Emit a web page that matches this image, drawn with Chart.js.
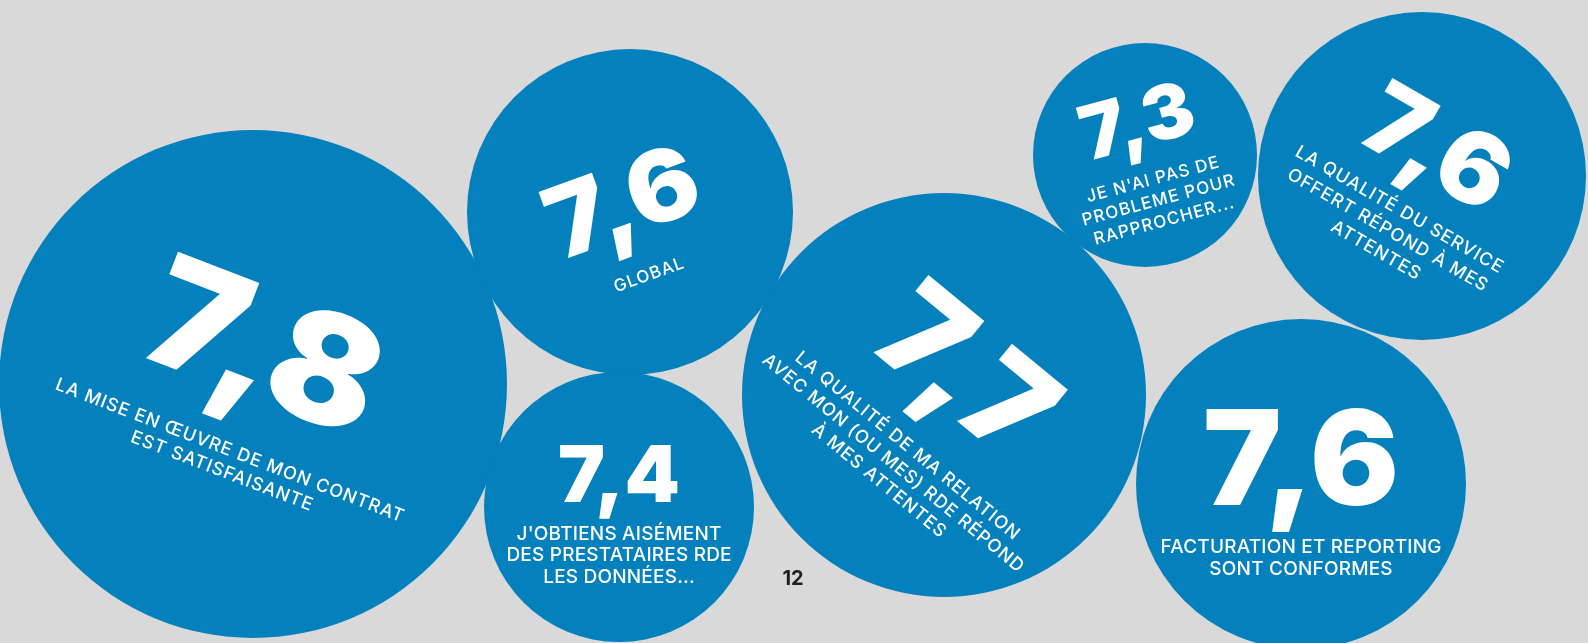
<!DOCTYPE html>
<html lang="fr">
<head>
<meta charset="utf-8">
<title>Satisfaction RDE</title>
<script src="https://cdn.jsdelivr.net/npm/chart.js@4/dist/chart.umd.min.js"></script>
<style>
  html, body { margin: 0; padding: 0; background: #d9d9d9; }
  #wrap { position: relative; width: 1588px; height: 643px; }
</style>
</head>
<body>
<div id="wrap"><canvas id="c"></canvas></div>
<script>
// Scores (sur 10) et libellés de chaque question
const scores = [7.8, 7.6, 7.4, 7.7, 7.3, 7.6, 7.6];
const labels = [
  ['LA MISE EN ŒUVRE DE MON CONTRAT', 'EST SATISFAISANTE'],
  ['GLOBAL'],
  ["J'OBTIENS AISÉMENT", 'DES PRESTATAIRES RDE', 'LES DONNÉES...'],
  ['LA QUALITÉ DE MA RELATION', 'AVEC MON (OU MES) RDE RÉPOND', 'À MES ATTENTES'],
  ["JE N'AI PAS DE", 'PROBLEME POUR', 'RAPPROCHER...'],
  ['LA QUALITÉ DU SERVICE', 'OFFERT RÉPOND À MES', 'ATTENTES'],
  ['FACTURATION ET REPORTING', 'SONT CONFORMES']
];
const pageNumber = '12';

// Mise en page des bulles : centre, rayon, angle du texte et réglages typographiques
const layout = [
  { x: 253,  y: 384, r: 254, angle: 21,   num: { size: 152, base: 14, dx: -2, sx: 1.06 }, lab: { size: 18, base: 76, lh: 22,   dx: 2,  ls: 1.0 } },
  { x: 630,  y: 212, r: 163, angle: -20,  num: { size: 99,  base: 22, dx: -4, sx: 1.06 }, lab: { size: 17, base: 71, lh: 22,   dx: -4, ls: 1.0 } },
  { x: 619,  y: 507, r: 135, angle: 0,    num: { size: 79,  base: -5, dx: 0,  sx: 1.0 },  lab: { size: 19, base: 33, lh: 21.3, dx: 0,  ls: 0.2 } },
  { x: 944,  y: 395, r: 202, angle: 39.5, num: { size: 130, base: 12, dx: 2,  sx: 1.03 }, lab: { size: 18, base: 68, lh: 22.5, dx: 4,  ls: 1.0 } },
  { x: 1145, y: 155, r: 112, angle: -15,  num: { size: 75,  base: -9, dx: 1,  sx: 1.03 }, lab: { size: 17, base: 31, lh: 21.5, dx: 1,  ls: 1.1 } },
  { x: 1422, y: 176, r: 164, angle: 30,   num: { size: 99,  base: 2,  dx: -1, sx: 1.04 }, lab: { size: 18, base: 46, lh: 23.5, dx: -3, ls: 1.0 } },
  { x: 1301, y: 484, r: 165, angle: 0,    num: { size: 132, base: 21, dx: 0,  sx: 1.0 },  lab: { size: 19, base: 69, lh: 21.7, dx: 0,  ls: 0.2 } }
];

const BLUE = '#0480bc';
const W = 1588, H = 643;

const fmt = v => v.toFixed(1).replace('.', ',');

// Texte blanc (note + libellé) posé sur chaque bulle, dans son repère tourné
const bubbleText = {
  id: 'bubbleText',
  afterDatasetsDraw(chart) {
    const ctx = chart.ctx;
    const meta = chart.getDatasetMeta(0);
    const ds = chart.data.datasets[0].data;
    meta.data.forEach((el, i) => {
      const L = layout[i];
      ctx.save();
      ctx.translate(el.x, el.y);
      ctx.rotate(L.angle * Math.PI / 180);
      ctx.fillStyle = '#ffffff';
      ctx.textAlign = 'center';
      ctx.textBaseline = 'alphabetic';

      ctx.save();
      ctx.translate(L.num.dx, L.num.base);
      ctx.scale(L.num.sx, 1);
      ctx.font = `900 ${L.num.size}px Inter`;
      ctx.letterSpacing = '0px';
      ctx.fillText(fmt(ds[i].v), 0, 0);
      ctx.restore();

      ctx.font = `500 ${L.lab.size}px Inter`;
      ctx.letterSpacing = `${L.lab.ls}px`;
      labels[i].forEach((line, k) => {
        ctx.fillText(line, L.lab.dx + L.lab.ls / 2, L.lab.base + k * L.lab.lh);
      });
      ctx.restore();
    });
    // numéro de page
    ctx.save();
    ctx.fillStyle = '#231f20';
    ctx.font = '700 20px Inter';
    ctx.textAlign = 'center';
    ctx.textBaseline = 'alphabetic';
    const px = chart.scales.x.getPixelForValue(793);
    const py = chart.scales.y.getPixelForValue(585);
    ctx.fillText(pageNumber, px, py);
    ctx.restore();
  }
};

new Chart(document.getElementById('c'), {
  type: 'bubble',
  data: {
    datasets: [{
      data: layout.map((L, i) => ({ x: L.x, y: L.y, r: L.r, v: scores[i] })),
      backgroundColor: BLUE,
      borderWidth: 0,
      hoverRadius: 0,
      clip: false
    }]
  },
  options: {
    responsive: true,
    maintainAspectRatio: false,
    animation: false,
    events: [],
    layout: { padding: 0, autoPadding: false },
    scales: {
      x: { type: 'linear', min: 0, max: W, display: false },
      y: { type: 'linear', min: 0, max: H, reverse: true, display: false }
    },
    plugins: { legend: { display: false }, tooltip: { enabled: false } }
  },
  plugins: [bubbleText]
});
</script>
</body>
</html>
